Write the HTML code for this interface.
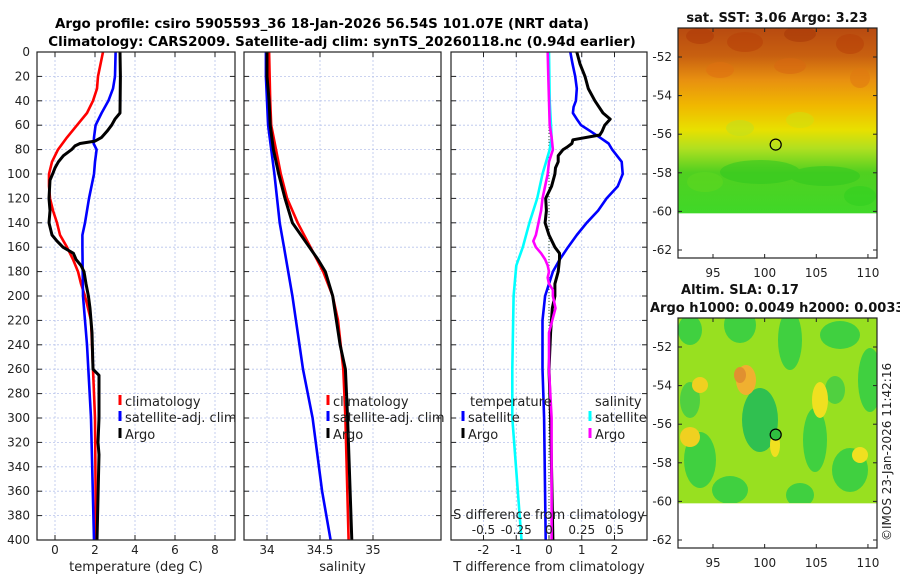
<!DOCTYPE html>
<html><head><meta charset="utf-8"><style>
body{margin:0;background:#fff;}
svg{display:block;font-family:"DejaVu Sans","Liberation Sans",sans-serif;}
</style></head><body>
<svg id="fig" width="900" height="580" viewBox="0 0 900 580" xmlns="http://www.w3.org/2000/svg">
<defs>
<linearGradient id="sstg" x1="0" y1="0" x2="0" y2="1">
<stop offset="0" stop-color="#b84a10"/><stop offset="0.15" stop-color="#c86010"/><stop offset="0.28" stop-color="#e89010"/><stop offset="0.42" stop-color="#f0b800"/><stop offset="0.55" stop-color="#e8e000"/><stop offset="0.65" stop-color="#b0e020"/><stop offset="0.78" stop-color="#50d020"/><stop offset="1" stop-color="#40d828"/>
</linearGradient>
<clipPath id="clipTop"><rect x="678" y="28" width="199" height="185"/></clipPath>
<clipPath id="clipBot"><rect x="678" y="318" width="199" height="185"/></clipPath>
</defs>
<text x="322" y="28" text-anchor="middle" font-weight="bold" font-size="13.4">Argo profile: csiro 5905593_36 18-Jan-2026 56.54S 101.07E (NRT data)</text>
<text x="342" y="46" text-anchor="middle" font-weight="bold" font-size="13.4">Climatology: CARS2009. Satellite-adj clim: synTS_20260118.nc (0.94d earlier)</text>
<g id="panels"></g>
<g id="maps"></g>
</svg>
<script>
// depth grid (m)
const depthTicks = [0,20,40,60,80,100,120,140,160,180,200,220,240,260,280,300,320,340,360,380,400];
// Temperature panel
const tempTicks = [0,2,4,6,8];
const tClimD = [0,20,30,40,50,60,70,80,90,100,110,120,130,140,150,160,170,180,190,200,220,260,300,400];
const tClimV = [2.4,2.15,2.1,1.9,1.6,1.1,0.6,0.15,-0.15,-0.3,-0.3,-0.25,-0.1,0.1,0.25,0.6,0.9,1.15,1.3,1.5,1.8,1.9,2.0,2.05];
const tSatD = [0,20,30,40,50,60,70,75,80,90,100,120,140,150,160,200,240,300,400];
const tSatV = [3.03,3.0,2.9,2.67,2.33,2.03,1.95,1.93,2.08,2.0,1.95,1.7,1.5,1.37,1.37,1.4,1.6,1.8,1.95];
const tArgoD = [0,20,50,55,60,65,70,73,75,77,80,85,90,95,100,105,120,130,140,150,155,160,165,170,175,180,190,200,210,230,260,265,300,320,330,400];
const tArgoV = [3.25,3.27,3.25,3.0,2.83,2.6,2.33,2.0,1.25,1.0,0.83,0.42,0.17,0.0,-0.12,-0.25,-0.3,-0.25,-0.3,-0.15,0.1,0.4,0.92,1.05,1.3,1.45,1.55,1.67,1.75,1.85,1.9,2.2,2.2,2.15,2.2,2.1];
// Salinity panel
const salTicks = [34,34.5,35];
const salTickLabels = ["34","34.5","35"];
const sClimD = [0,40,60,100,120,140,160,180,200,220,260,300,400];
const sClimV = [34.02,34.03,34.04,34.13,34.19,34.29,34.41,34.53,34.62,34.67,34.72,34.74,34.77];
const sSatD = [0,20,60,100,140,160,200,260,300,360,400];
const sSatV = [33.99,33.99,34.01,34.07,34.12,34.16,34.24,34.34,34.43,34.52,34.6];
const sArgoD = [0,20,40,60,80,100,120,140,160,170,180,200,240,260,300,400];
const sArgoV = [34.0,34.0,34.02,34.03,34.06,34.11,34.17,34.24,34.4,34.48,34.55,34.62,34.69,34.74,34.76,34.8];
// Difference panel
const tdTicks = [-2,-1,0,1,2];
const sdTicks = [-0.5,-0.25,0,0.25,0.5];
const sdTickLabels = ["-0.5","-0.25","0","0.25","0.5"];
const dTArgoD = [0,10,20,30,40,50,55,60,65,68,72,75,78,80,85,90,95,100,110,120,130,140,150,160,165,170,180,190,200,210,230,260,300,400];
const dTArgoV = [0.85,0.95,1.1,1.2,1.4,1.65,1.87,1.7,1.62,1.55,0.73,0.7,0.55,0.43,0.28,0.28,0.2,0.18,0.08,-0.1,-0.08,-0.12,0.0,0.18,0.32,0.32,0.28,0.18,0.18,0.1,0.05,0.0,0.05,0.12];
const dTSatD = [0,10,20,30,40,45,50,55,60,65,70,75,80,90,100,110,120,130,140,150,160,170,180,190,200,220,260,300,400];
const dTSatV = [0.65,0.72,0.8,0.85,0.82,0.75,0.73,0.85,0.98,1.27,1.55,1.82,1.93,2.22,2.25,2.1,1.76,1.5,1.15,0.85,0.58,0.33,0.12,0.0,-0.12,-0.2,-0.2,-0.15,-0.1];
const dSSatD = [0,40,70,80,100,120,140,160,175,200,260,300,400];
const dSSatV = [0.0,0.005,0.02,0.005,-0.05,-0.09,-0.15,-0.2,-0.25,-0.27,-0.28,-0.28,-0.21];
const dSArgoD = [0,20,40,60,70,80,90,100,110,120,130,140,150,155,160,165,170,175,180,185,190,195,200,210,230,260,300,400];
const dSArgoV = [-0.01,-0.005,0.0,0.005,0.02,0.03,0.0,-0.01,-0.03,-0.05,-0.06,-0.08,-0.1,-0.12,-0.1,-0.06,-0.03,-0.01,0.0,-0.01,0.0,0.03,0.03,0.05,0.0,0.0,0.02,0.02];
// Maps
const lonTicks = [95,100,105,110];
const latTicks = [-52,-54,-56,-58,-60,-62];
const argoLon = 101.07, argoLat = -56.54;
const sstTitle = "sat. SST: 3.06 Argo: 3.23";
const slaTitle = "Altim. SLA: 0.17";
const slaTitle2 = "Argo h1000: 0.0049 h2000: 0.0033";

const NS = "http://www.w3.org/2000/svg";
function mk(tag, attrs, parent, text){
  const e = document.createElementNS(NS, tag);
  for (const k in attrs) e.setAttribute(k, attrs[k]);
  if (text !== undefined) e.textContent = text;
  parent.appendChild(e);
  return e;
}
const Y0 = 52, Y1 = 540;
const yD = d => Y0 + (Y1 - Y0) * d / 400;
const panelsG = document.getElementById('panels');
const mapsG = document.getElementById('maps');

function panel(name, x0, x1, xScale, ticks, labels, xlabel){
  const g = mk('g', {}, panelsG);
  
  
  ticks.forEach(t => {
    const x = xScale(t);
    const l = mk('line', {x1:x, x2:x, y1:Y0, y2:Y1, stroke:'#b8c4ec', 'stroke-width':0.8, 'stroke-dasharray':'2,2'}, g);
    
    
  });
  depthTicks.forEach(d => {
    const y = yD(d);
    const l = mk('line', {x1:x0, x2:x1, y1:y, y2:y, stroke:'#b8c4ec', 'stroke-width':0.8, 'stroke-dasharray':'2,2'}, g);
    
    
    mk('line', {x1:x0, x2:x0+5, y1:y, y2:y, stroke:'#222'}, g);
    mk('line', {x1:x1-5, x2:x1, y1:y, y2:y, stroke:'#222'}, g);
  });
  ticks.forEach((t,i) => {
    const x = xScale(t);
    mk('line', {x1:x, x2:x, y1:Y0, y2:Y0+5, stroke:'#222'}, g);
    mk('line', {x1:x, x2:x, y1:Y1-5, y2:Y1, stroke:'#222'}, g);
    const tl = mk('text', {x:x, y:554, 'text-anchor':'middle', 'font-size':12, fill:'#222'}, g, labels[i]);
    
    
  });
  const xl = mk('text', {x:(x0+x1)/2, y:571, 'text-anchor':'middle', 'font-size':13, fill:'#222'}, g, xlabel);
  
  
  return g;
}
function frame(g, x0, x1){
  const r = mk('rect', {x:x0, y:Y0, width:x1-x0, height:Y1-Y0, fill:'none', stroke:'#222', 'stroke-width':1.2}, g);
  
  
}
function line(g, name, D, V, xScale, color, w){
  const pts = D.map((d,i) => xScale(V[i]).toFixed(1) + ',' + yD(d).toFixed(1)).join(' ');
  const p = mk('polyline', {points:pts, fill:'none', stroke:color, 'stroke-width':w||2.6, 'stroke-linejoin':'round'}, g);
  
  
}
function legendEntry(g, name, x, y, color, label){
  const e = mk('g', {}, g);
  
  
  mk('line', {x1:x, x2:x, y1:y-11, y2:y-1, stroke:color, 'stroke-width':3}, e);
  mk('text', {x:x+5, y:y, 'font-size':13, fill:'#222'}, e, label);
}

// Panel 1 temperature
const xT = t => 55 + 20 * t;
const p1 = panel('temperature-panel', 37, 235, xT, tempTicks, tempTicks.map(String), 'temperature (deg C)');
depthTicks.forEach(d => {
  const tl = mk('text', {x:30, y:yD(d)+4, 'text-anchor':'end', 'font-size':12, fill:'#222'}, p1, String(d));
  
  
});
line(p1, 'temp-climatology-line', tClimD, tClimV, xT, '#ff0000');
line(p1, 'temp-satellite-line', tSatD, tSatV, xT, '#0000ff');
line(p1, 'temp-argo-line', tArgoD, tArgoV, xT, '#000000', 3);
legendEntry(p1, 'legend-climatology', 120, 406, '#ff0000', 'climatology');
legendEntry(p1, 'legend-satellite-adj', 120, 422, '#0000ff', 'satellite-adj. clim');
legendEntry(p1, 'legend-argo', 120, 439, '#000000', 'Argo');
frame(p1, 37, 235);

// Panel 2 salinity
const xS = s => 267 + 106 * (s - 34);
const p2 = panel('salinity-panel', 244, 441, xS, salTicks, salTickLabels, 'salinity');
line(p2, 'sal-climatology-line', sClimD, sClimV, xS, '#ff0000');
line(p2, 'sal-satellite-line', sSatD, sSatV, xS, '#0000ff');
line(p2, 'sal-argo-line', sArgoD, sArgoV, xS, '#000000', 3);
legendEntry(p2, 'legend-climatology', 328, 406, '#ff0000', 'climatology');
legendEntry(p2, 'legend-satellite-adj', 328, 422, '#0000ff', 'satellite-adj. clim');
legendEntry(p2, 'legend-argo', 328, 439, '#000000', 'Argo');
frame(p2, 244, 441);

// Panel 3 differences
const xTD = v => 549 + 32.75 * v;
const xSD = v => 549 + 131 * v;
const p3 = panel('difference-panel', 451, 647, xTD, tdTicks, tdTicks.map(String), 'T difference from climatology');
const zl = mk('line', {x1:549, x2:549, y1:Y0, y2:Y1, stroke:'#335533', 'stroke-width':1, 'stroke-dasharray':'1,2'}, p3);


line(p3, 'sdiff-satellite-line', dSSatD, dSSatV, xSD, '#00ffff');
line(p3, 'tdiff-satellite-line', dTSatD, dTSatV, xTD, '#0000ff');
line(p3, 'tdiff-argo-line', dTArgoD, dTArgoV, xTD, '#000000', 3);
line(p3, 'sdiff-argo-line', dSArgoD, dSArgoV, xSD, '#ff00ff');
mk('text', {x:470, y:406, 'font-size':13, fill:'#222'}, p3, 'temperature');
legendEntry(p3, 'legend-t-satellite', 463, 422, '#0000ff', 'satellite');
legendEntry(p3, 'legend-t-argo', 463, 439, '#000000', 'Argo');
mk('text', {x:595, y:406, 'font-size':13, fill:'#222'}, p3, 'salinity');
legendEntry(p3, 'legend-s-satellite', 590, 422, '#00ffff', 'satellite');
legendEntry(p3, 'legend-s-argo', 590, 439, '#ff00ff', 'Argo');
const st = mk('text', {x:549, y:519, 'text-anchor':'middle', 'font-size':13, fill:'#222'}, p3, 'S difference from climatology');


sdTicks.forEach((v,i) => {
  const t = mk('text', {x:xSD(v), y:534, 'text-anchor':'middle', 'font-size':12, fill:'#222'}, p3, sdTickLabels[i]);
  
  
});
frame(p3, 451, 647);

// Maps
const MX0 = 678, MX1 = 877;
const xLon = lon => 713 + (lon - 95) * 10.33;
function mapPanel(name, top, title1, title2, kind){
  const g = mk('g', {}, mapsG);
  
  
  const yLat = lat => top + 29 + (-52 - lat) * 19.3;
  const imgBottom = yLat(-60.1);
  if (kind === 'sst'){
    mk('rect', {x:MX0, y:top, width:MX1-MX0, height:imgBottom-top, fill:'url(#sstg)'}, g);
    const cg = mk('g', {'clip-path':'url(#clipTop)', opacity:0.55}, g);
    [[700,36,14,8,'#b03a08'],[745,42,18,10,'#b84008'],[800,34,16,8,'#a83808'],[850,44,14,10,'#b84008'],[720,70,14,8,'#e07010'],[790,66,16,8,'#d86810'],[860,78,10,10,'#e07810'],
     [760,172,40,12,'#30c820'],[825,176,35,10,'#30c820'],[705,182,18,10,'#60d820'],[860,196,16,10,'#30d020'],[740,128,14,8,'#c0e020'],[800,120,14,8,'#d0e010']].forEach(b => {
      mk('ellipse', {cx:b[0], cy:b[1], rx:b[2], ry:b[3], fill:b[4]}, cg);
    });
  } else {
    mk('rect', {x:MX0, y:top, width:MX1-MX0, height:imgBottom-top, fill:'#98e020'}, g);
    const cg = mk('g', {'clip-path':'url(#clipBot)'}, g);
    [[690,330,12,15,'#40d040'],[740,325,16,18,'#40d040'],[790,340,12,30,'#40d040'],[840,335,20,14,'#40d040'],[760,420,18,32,'#30c050'],[700,460,16,28,'#40d040'],
     [870,380,12,32,'#40d040'],[815,440,12,32,'#40d040'],[850,470,18,22,'#40d040'],[730,490,18,14,'#40d040'],[800,495,14,12,'#40d040'],[690,400,10,18,'#50d040'],[835,390,10,14,'#50d040'],
     [746,380,10,15,'#f0b030'],[740,375,6,8,'#e09030'],[700,385,8,8,'#f0d020'],[690,437,10,10,'#f0d020'],[820,400,8,18,'#f0e020'],[860,455,8,8,'#f0e020'],[775,445,5,12,'#f0e020']].forEach(b => {
      mk('ellipse', {cx:b[0], cy:b[1], rx:b[2], ry:b[3], fill:b[4]}, cg);
    });
  }
  const r = mk('rect', {x:MX0, y:top, width:MX1-MX0, height:230, fill:'none', stroke:'#222', 'stroke-width':1.2}, g);
  
  
  latTicks.forEach(lat => {
    const y = yLat(lat);
    mk('line', {x1:MX0, x2:MX0+4, y1:y, y2:y, stroke:'#222'}, g);
    mk('line', {x1:MX1-4, x2:MX1, y1:y, y2:y, stroke:'#222'}, g);
    const t = mk('text', {x:MX0-6, y:y+4, 'text-anchor':'end', 'font-size':12, fill:'#222'}, g, String(lat));
    
    
  });
  lonTicks.forEach(lon => {
    const x = xLon(lon);
    mk('line', {x1:x, x2:x, y1:top+226, y2:top+230, stroke:'#222'}, g);
    mk('line', {x1:x, x2:x, y1:top, y2:top+4, stroke:'#222'}, g);
    const t = mk('text', {x:x, y:top+249, 'text-anchor':'middle', 'font-size':12, fill:'#222'}, g, String(lon));
    
    
  });
  const c = mk('circle', {cx:xLon(argoLon), cy:yLat(argoLat), r:5.5, fill:kind==='sst'?'none':'#30c040', stroke:'#000', 'stroke-width':1.2}, g);
  
  
  const t1 = mk('text', {x:777, y:top-6 - (title2?18:0), 'text-anchor':'middle', 'font-weight':'bold', 'font-size':13, fill:'#111'}, g, title1);
  
  
  if (title2){
    const t2 = mk('text', {x:650, y:top-6, 'font-weight':'bold', 'font-size':13, fill:'#111'}, g, title2);
    
    
    t1.setAttribute('x', 740);
  }
}
mapPanel('sst-map', 28, sstTitle, null, 'sst');
mapPanel('sla-map', 318, slaTitle, slaTitle2, 'sla');
const ts = mk('text', {x:0, y:0, 'font-size':12, fill:'#222', transform:'translate(891,541) rotate(-90)'}, mapsG, '©IMOS 23-Jan-2026 11:42:16');


</script>
</body></html>
